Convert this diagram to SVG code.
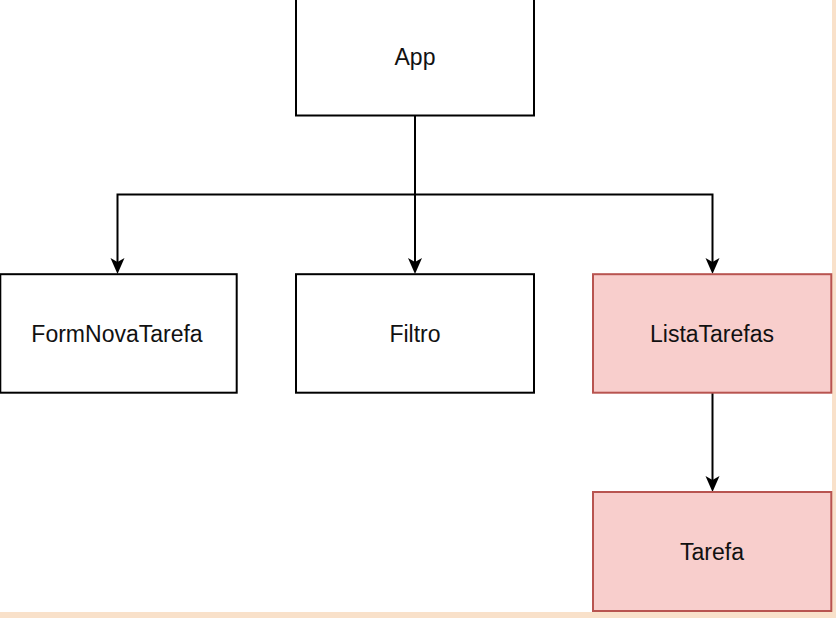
<svg xmlns="http://www.w3.org/2000/svg" width="836" height="618" viewBox="0 0 836 618">
  <style>
    .box { fill: #ffffff; stroke: #000000; stroke-width: 2; }
    .red { fill: #f8cecc; stroke: #b85450; stroke-width: 2; }
    .lbl { font-family: "Liberation Sans", Arial, Helvetica, sans-serif; font-size: 23px; fill: #111111; text-anchor: middle; }
    .edge { fill: none; stroke: #000000; stroke-width: 2; }
  </style>
  <defs>
    <marker id="arr" markerUnits="userSpaceOnUse" markerWidth="18" markerHeight="16" refX="4" refY="7" orient="auto">
      <path d="M0,0 L16,7 L0,14 L4,7 Z" fill="#000000"/>
    </marker>
  </defs>
  <rect x="0" y="0" width="836" height="618" fill="#f9e1ca"/>
  <rect x="0" y="0" width="832" height="612" fill="#ffffff"/>

  <g id="connectors">
    <path class="edge" d="M415,115.5 V194.5 H117.5 V262" marker-end="url(#arr)"/>
    <path class="edge" d="M415,115.5 V262" marker-end="url(#arr)"/>
    <path class="edge" d="M415,115.5 V194.5 H712.5 V262" marker-end="url(#arr)"/>
    <path class="edge" d="M712.5,392.7 V480" marker-end="url(#arr)"/>
  </g>

  <g id="node-app">
    <rect class="box" x="296" y="-3.2" width="238" height="118.7"/>
    <text class="lbl" x="415" y="65">App</text>
  </g>
  <g id="node-formnovatarefa">
    <rect class="box" x="0.3" y="274.2" width="236.4" height="118.5"/>
    <text class="lbl" x="117" y="342">FormNovaTarefa</text>
  </g>
  <g id="node-filtro">
    <rect class="box" x="296" y="274.2" width="238" height="118.5"/>
    <text class="lbl" x="415" y="342">Filtro</text>
  </g>
  <g id="node-listatarefas">
    <rect class="red" x="593" y="274.2" width="238.3" height="118.5"/>
    <text class="lbl" x="712" y="342">ListaTarefas</text>
  </g>
  <g id="node-tarefa">
    <rect class="red" x="593" y="492" width="238.3" height="119"/>
    <text class="lbl" x="712" y="560">Tarefa</text>
  </g>
</svg>
